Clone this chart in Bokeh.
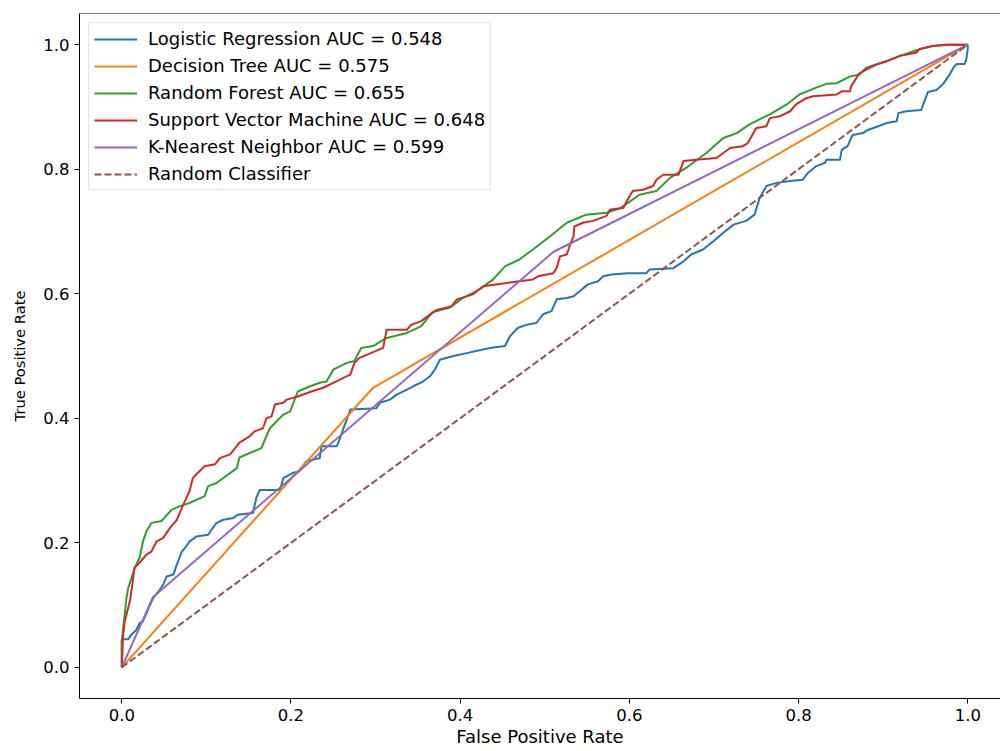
from bokeh.plotting import figure
from bokeh.models import FixedTicker, Range1d, Span
from bokeh.embed import file_html
from bokeh.resources import INLINE

# ---- data ----
lr_fpr = [0.0, 0.0, 0.0075, 0.011, 0.017, 0.021, 0.025, 0.031, 0.037, 0.045, 0.049, 0.053, 0.061, 0.065,
          0.071, 0.076, 0.080, 0.088, 0.102, 0.106, 0.112, 0.120, 0.132, 0.137, 0.155, 0.159, 0.163, 0.187,
          0.191, 0.202, 0.210, 0.218, 0.234, 0.236, 0.254, 0.258, 0.262, 0.266, 0.270, 0.301, 0.305, 0.317,
          0.325, 0.337, 0.344, 0.356, 0.364, 0.370, 0.376, 0.392, 0.409, 0.435, 0.453, 0.459, 0.468, 0.478,
          0.490, 0.498, 0.508, 0.514, 0.526, 0.534, 0.551, 0.563, 0.569, 0.579, 0.598, 0.620, 0.624, 0.652,
          0.664, 0.673, 0.687, 0.699, 0.711, 0.723, 0.738, 0.748, 0.754, 0.762, 0.774, 0.790, 0.805, 0.811,
          0.821, 0.831, 0.833, 0.849, 0.851, 0.858, 0.862, 0.864, 0.876, 0.882, 0.894, 0.904, 0.916, 0.918,
          0.927, 0.945, 0.947, 0.953, 0.963, 0.967, 0.971, 0.975, 0.979, 0.983, 0.987, 0.996, 0.998, 1.0, 1.0]
lr_tpr = [0.0, 0.045, 0.045, 0.052, 0.060, 0.071, 0.074, 0.093, 0.111, 0.125, 0.133, 0.146, 0.149, 0.165,
          0.186, 0.194, 0.202, 0.210, 0.213, 0.221, 0.232, 0.237, 0.240, 0.245, 0.248, 0.272, 0.285, 0.285,
          0.304, 0.312, 0.315, 0.331, 0.336, 0.355, 0.355, 0.368, 0.384, 0.398, 0.414, 0.416, 0.425, 0.430,
          0.438, 0.446, 0.451, 0.459, 0.467, 0.478, 0.494, 0.500, 0.505, 0.513, 0.516, 0.532, 0.545, 0.550,
          0.553, 0.567, 0.572, 0.591, 0.593, 0.596, 0.615, 0.620, 0.628, 0.631, 0.633, 0.633, 0.639, 0.641,
          0.652, 0.663, 0.671, 0.684, 0.698, 0.711, 0.717, 0.727, 0.754, 0.773, 0.778, 0.781, 0.783, 0.794,
          0.805, 0.810, 0.815, 0.815, 0.831, 0.837, 0.850, 0.855, 0.858, 0.863, 0.869, 0.874, 0.877, 0.890,
          0.893, 0.895, 0.903, 0.924, 0.927, 0.932, 0.937, 0.945, 0.953, 0.963, 0.969, 0.969, 0.974, 0.993, 1.0]

dt_fpr = [0.0, 0.297, 1.0]
dt_tpr = [0.0, 0.449, 1.0]

rf_fpr = [0.0, 0.0, 0.0055, 0.0075, 0.0154, 0.021, 0.025, 0.029, 0.035, 0.047, 0.0587, 0.0686, 0.080, 0.098,
          0.102, 0.112, 0.136, 0.139, 0.165, 0.175, 0.191, 0.199, 0.208, 0.222, 0.234, 0.242, 0.250, 0.266,
          0.275, 0.283, 0.297, 0.313, 0.337, 0.354, 0.367, 0.388, 0.403, 0.423, 0.439, 0.453, 0.470, 0.486,
          0.506, 0.526, 0.549, 0.573, 0.589, 0.612, 0.632, 0.648, 0.667, 0.691, 0.711, 0.727, 0.742, 0.766,
          0.786, 0.801, 0.821, 0.833, 0.845, 0.861, 0.872, 0.880, 0.904, 0.920, 0.939, 0.959, 0.975, 1.0]
rf_tpr = [0.0, 0.042, 0.111, 0.127, 0.160, 0.176, 0.202, 0.218, 0.232, 0.235, 0.253, 0.259, 0.264, 0.275,
          0.291, 0.296, 0.320, 0.337, 0.352, 0.384, 0.406, 0.411, 0.443, 0.451, 0.457, 0.459, 0.478, 0.489,
          0.492, 0.513, 0.516, 0.529, 0.537, 0.548, 0.570, 0.578, 0.593, 0.607, 0.623, 0.644, 0.655, 0.671,
          0.692, 0.714, 0.727, 0.730, 0.737, 0.759, 0.765, 0.786, 0.802, 0.826, 0.850, 0.858, 0.872, 0.888,
          0.904, 0.920, 0.931, 0.937, 0.938, 0.949, 0.952, 0.963, 0.974, 0.982, 0.991, 0.998, 1.0, 1.0]

svm_fpr = [0.0, 0.0016, 0.0035, 0.0095, 0.013, 0.015, 0.021, 0.029, 0.035, 0.041, 0.049, 0.057, 0.065, 0.071,
           0.080, 0.084, 0.088, 0.098, 0.110, 0.116, 0.128, 0.134, 0.139, 0.151, 0.157, 0.167, 0.171, 0.177,
           0.181, 0.191, 0.195, 0.208, 0.224, 0.238, 0.250, 0.262, 0.270, 0.275, 0.281, 0.295, 0.309, 0.313,
           0.337, 0.342, 0.354, 0.364, 0.372, 0.390, 0.396, 0.415, 0.427, 0.453, 0.470, 0.486, 0.492, 0.510,
           0.514, 0.518, 0.526, 0.530, 0.534, 0.535, 0.545, 0.557, 0.573, 0.577, 0.593, 0.597, 0.604, 0.616,
           0.628, 0.632, 0.640, 0.658, 0.664, 0.679, 0.703, 0.711, 0.719, 0.734, 0.740, 0.750, 0.762, 0.766,
           0.778, 0.790, 0.797, 0.809, 0.817, 0.845, 0.851, 0.861, 0.862, 0.872, 0.880, 0.892, 0.904, 0.920,
           0.939, 0.943, 0.959, 0.975, 1.0]
svm_tpr = [0.0, 0.052, 0.074, 0.106, 0.138, 0.160, 0.168, 0.181, 0.186, 0.202, 0.208, 0.224, 0.237, 0.256,
           0.283, 0.304, 0.310, 0.323, 0.326, 0.336, 0.342, 0.352, 0.361, 0.371, 0.379, 0.384, 0.400, 0.403,
           0.422, 0.425, 0.430, 0.435, 0.443, 0.449, 0.457, 0.465, 0.470, 0.489, 0.497, 0.505, 0.513, 0.542,
           0.542, 0.550, 0.556, 0.566, 0.574, 0.580, 0.591, 0.599, 0.612, 0.617, 0.620, 0.623, 0.628, 0.633,
           0.641, 0.660, 0.663, 0.679, 0.692, 0.708, 0.714, 0.717, 0.725, 0.735, 0.738, 0.749, 0.765, 0.767,
           0.773, 0.783, 0.791, 0.791, 0.813, 0.815, 0.818, 0.826, 0.834, 0.837, 0.842, 0.866, 0.869, 0.882,
           0.885, 0.893, 0.904, 0.914, 0.917, 0.920, 0.925, 0.925, 0.933, 0.954, 0.960, 0.968, 0.973, 0.982,
           0.987, 0.993, 0.998, 1.0, 1.0]

knn_fpr = [0.0, 0.037, 0.510, 1.0]
knn_tpr = [0.0, 0.113, 0.667, 1.0]

rand_fpr = [0.0, 1.0]
rand_tpr = [0.0, 1.0]

labels = ["Logistic Regression AUC = 0.548", "Decision Tree AUC = 0.575", "Random Forest AUC = 0.655",
          "Support Vector Machine AUC = 0.648", "K-Nearest Neighbor AUC = 0.599", "Random Classifier"]
tick_values = [0.0, 0.2, 0.4, 0.6, 0.8, 1.0]
tick_labels = ["0.0", "0.2", "0.4", "0.6", "0.8", "1.0"]

colors = ["#1f77b4", "#ff7f0e", "#2ca02c", "#d62728", "#9467bd", "#8c564b"]
FONT = "DejaVu Sans"

p = figure(width=1000, height=751, output_backend="svg", toolbar_location=None,
           x_range=Range1d(-0.05, 1.0387), y_range=Range1d(-0.05, 1.05),
           min_border_left=79, min_border_right=0, min_border_top=13, min_border_bottom=53,
           background_fill_color="white", border_fill_color="white",
           x_axis_label="False Positive Rate", y_axis_label="True Positive Rate")
p.outline_line_color = None
p.grid.visible = False

series = [(lr_fpr, lr_tpr), (dt_fpr, dt_tpr), (rf_fpr, rf_tpr), (svm_fpr, svm_tpr), (knn_fpr, knn_tpr)]
for (xs, ys), c, lab in zip(series, colors[:5], labels[:5]):
    p.line(xs, ys, line_color=c, line_width=2, line_join="round", legend_label=lab)
p.line(rand_fpr, rand_tpr, line_color=colors[5], line_width=2, line_dash="7 3", legend_label=labels[5])

for ax in (p.xaxis[0], p.yaxis[0]):
    ax.ticker = FixedTicker(ticks=tick_values)
    ax.major_label_overrides = {v: s for v, s in zip(tick_values, tick_labels)}
    ax.major_label_text_font = FONT
    ax.major_label_text_color = "black"
    ax.axis_label_text_font = FONT
    ax.axis_label_text_font_style = "normal"
    ax.axis_label_text_color = "black"
    ax.axis_line_color = "black"
    ax.major_tick_line_color = "black"
    ax.major_tick_out = 5
    ax.major_tick_in = 0
    ax.minor_tick_line_color = None
p.xaxis[0].major_label_text_font_size = "16.5px"
p.yaxis[0].major_label_text_font_size = "16.5px"
p.xaxis[0].axis_label_text_font_size = "18px"
p.yaxis[0].axis_label_text_font_size = "14.7px"
p.xaxis[0].major_label_standoff = 5
p.xaxis[0].axis_label_standoff = 2
p.yaxis[0].major_label_standoff = 5
p.yaxis[0].axis_label_standoff = 12

# top spine of the axes box
p.add_layout(Span(location=1.05, dimension="width", line_color="black", line_width=1))

lg = p.legend[0]
lg.location = "top_left"
lg.margin = 9
lg.padding = 5
lg.spacing = 6
lg.glyph_width = 43
lg.glyph_height = 20
lg.label_height = 20
lg.label_standoff = 11
lg.label_text_font = FONT
lg.label_text_font_size = "18px"
lg.label_text_color = "black"
lg.border_line_color = "#cccccc"
lg.border_line_width = 1
lg.background_fill_alpha = 0.8

open("out.html", "w").write(file_html(p, INLINE))
